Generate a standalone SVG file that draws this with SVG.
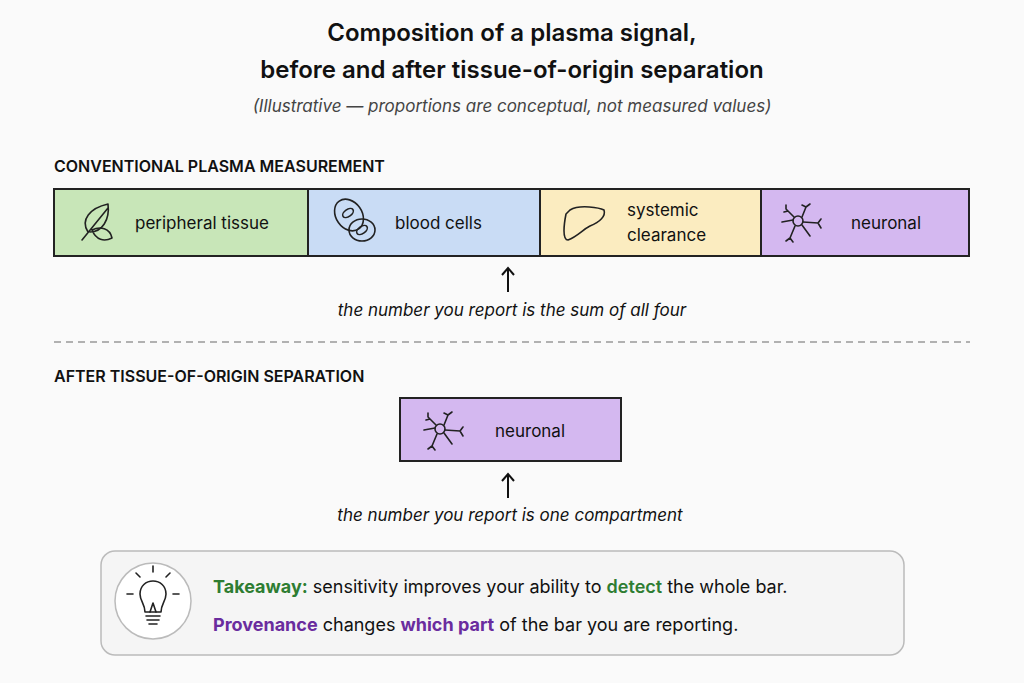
<svg xmlns="http://www.w3.org/2000/svg" width="1024" height="683" viewBox="0 0 1024 683">
<style>
text{font-family:"Inter","Liberation Sans",sans-serif;fill:#111}
.t{font-size:24px;font-weight:600;text-anchor:middle}
.sub{font-size:17px;font-style:italic;fill:#444;text-anchor:middle}
.h{font-size:16px;font-weight:600}
.lab{font-size:17px}
.cap{font-size:17px;font-style:italic;text-anchor:middle}
.seg{stroke:#222;stroke-width:2}
.ic{fill:none;stroke:#222;stroke-width:1.6;stroke-linecap:round;stroke-linejoin:round}
.arr{stroke:#111;stroke-width:2;fill:none}
.tk{font-size:18px}
</style>
<rect width="1024" height="683" fill="#fafafa"/>
<text class="t" x="512" y="41">Composition of a plasma signal,</text>
<text class="t" x="512" y="78">before and after tissue-of-origin separation</text>
<text class="sub" x="512" y="112">(Illustrative — proportions are conceptual, not measured values)</text>
<text class="h" x="54" y="172">CONVENTIONAL PLASMA MEASUREMENT</text>

<g id="peripheral">
<rect class="seg" x="54" y="189" width="254" height="67" fill="#c8e6b8"/>
<path class="ic" d="M82 240 L108 208 M88 232 C80 220 90 208 108 204 C110 220 102 232 90 232 M92 230 C100 226 110 228 112 238 C104 242 96 240 92 230"/>
<text class="lab" x="135" y="229">peripheral tissue</text>
</g>
<g id="blood">
<rect class="seg" x="308" y="189" width="232" height="67" fill="#c9dcf5"/>
<ellipse class="ic" cx="349" cy="215" rx="13" ry="17" transform="rotate(-35 349 215)"/>
<ellipse class="ic" cx="348" cy="213" rx="6" ry="3.5" transform="rotate(-35 348 213)"/>
<ellipse class="ic" cx="362" cy="230" rx="13" ry="11"/>
<ellipse class="ic" cx="362" cy="230" rx="6" ry="3.5" transform="rotate(-35 362 230)"/>
<text class="lab" x="395" y="229">blood cells</text>
</g>
<g id="systemic">
<rect class="seg" x="540" y="189" width="221" height="67" fill="#fbecc0"/>
<path class="ic" d="M570 210 C580 204 600 208 604 210 C606 216 600 222 590 226 C582 230 578 236 568 240 C562 240 564 224 566 214 Z"/>
<text class="lab" x="627" y="216">systemic</text>
<text class="lab" x="627" y="241">clearance</text>
</g>
<g id="neuronal1">
<rect class="seg" x="761" y="189" width="208" height="67" fill="#d4b8f0"/>
<g class="ic"><circle cx="798" cy="221" r="5"/>
<path d="M794 217 L786 209 M788 211 L784 212 M786 209 L786 205 M802 217 L806 207 M806 207 L802 205 M806 207 L810 204 M803 222 L818 223 M818 223 L821 219 M818 223 L821 228 M802 225 L810 236 M795 226 L790 238 M790 238 L786 241 M790 238 L793 242 M793 220 L782 222"/></g>
<text class="lab" x="851" y="229">neuronal</text>
</g>

<g id="connectors">
<path class="arr" d="M508 292 V268 M502 275 L508 268 L514 275"/>
<path class="arr" d="M508 498 V474 M502 481 L508 474 L514 481"/>
<line x1="54" y1="342" x2="970" y2="342" stroke="#999" stroke-width="1.5" stroke-dasharray="7 5"/>
</g>
<text class="cap" x="512" y="316">the number you report is the sum of all four</text>

<text class="h" x="54" y="382">AFTER TISSUE-OF-ORIGIN SEPARATION</text>
<g id="neuronal2">
<rect class="seg" x="400" y="398" width="221" height="63" fill="#d4b8f0"/>
<g class="ic"><circle cx="440" cy="429" r="5"/>
<path d="M436 425 L428 417 M430 419 L426 420 M428 417 L428 413 M444 425 L448 415 M448 415 L444 413 M448 415 L452 412 M445 430 L460 431 M460 431 L463 427 M460 431 L463 436 M444 433 L452 444 M437 434 L432 446 M432 446 L428 449 M432 446 L435 450 M435 428 L424 430"/></g>
<text class="lab" x="495" y="437">neuronal</text>
</g>
<text class="cap" x="510" y="521">the number you report is one compartment</text>

<g id="takeaway">
<rect x="101" y="551" width="803" height="104" rx="14" fill="#f5f5f5" stroke="#bbb" stroke-width="1.5"/>
<circle cx="153" cy="601" r="38" fill="#fff" stroke="#bbb" stroke-width="1.5"/>
<g class="ic">
<path d="M145 612 C145 604 140 601 140 594 C140 586 146 581 153 581 C160 581 166 586 166 594 C166 601 161 604 161 612 Z"/>
<path d="M146 616 H160 M147 620 H159 M149 624 H157 M150 612 L153 603 L156 612"/>
<path d="M153 572 V566 M140 577 L136 573 M166 577 L170 573 M133 594 H127 M173 594 H179"/>
</g>
<text class="tk" x="213" y="593"><tspan fill="#2e7d32" font-weight="700">Takeaway:</tspan> sensitivity improves your ability to <tspan fill="#2e7d32" font-weight="600">detect</tspan> the whole bar.</text>
<text class="tk" x="213" y="631"><tspan fill="#6a2c9e" font-weight="700">Provenance</tspan> changes <tspan fill="#6a2c9e" font-weight="700">which part</tspan> of the bar you are reporting.</text>
</g>
</svg>
